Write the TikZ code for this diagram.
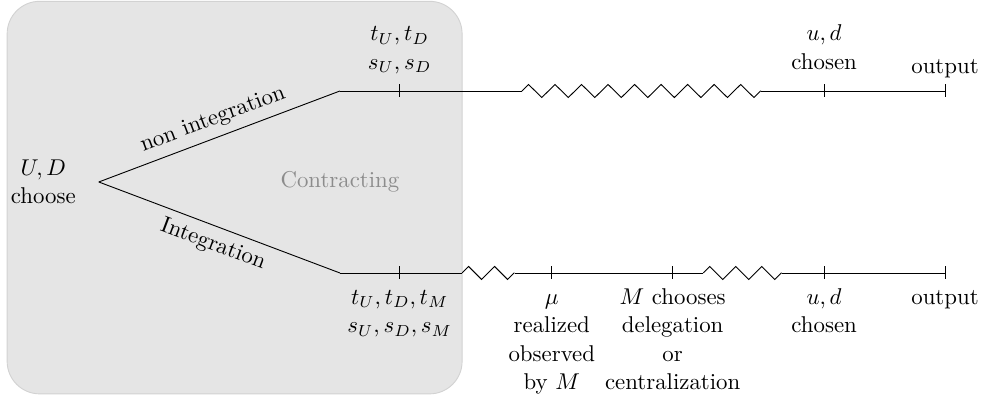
\documentclass[tikz,border=0pt]{standalone}
\usepackage{xcolor}
\usepackage{tikz}
\usetikzlibrary{positioning,decorations.pathmorphing}
\definecolor{CTFill}{HTML}{E5E5E5}
\definecolor{CTEdge}{HTML}{D2D2D2}
\definecolor{CTText}{HTML}{8C8C8C}
\tikzset{
  zig/.style={decorate,decoration={zigzag,segment length=#1,amplitude=0.1cm}},
  zig/.default=0.4cm,
  evlabel/.style={align=center,inner sep=0.333em,font=\fontsize{10}{12.5}\selectfont}
}

\begin{document}
\begin{tikzpicture}[x=1cm,y=1cm]
\path[use as bounding box] (0,0) rectangle (15.14,6.25);
\filldraw[fill=CTFill,draw=CTEdge,rounded corners=0.5cm] (0.11,0.19) rectangle (7.11,6.23);
% tree
\coordinate (root) at (1.52,3.45);
\coordinate (nBend) at (5.23,4.85);
\coordinate (iBend) at (5.23,2.05);
% non integration line
\coordinate (nCon) at (6.15,4.85);
\coordinate (nZa) at (8.03,4.85);
\coordinate (nZb) at (11.71,4.85);
\coordinate (nChoice) at (12.68,4.85);
\coordinate (nOut) at (14.54,4.85);
% integration line
\coordinate (iCon) at (6.15,2.05);
\coordinate (iZa) at (7.11,2.05);
\coordinate (iZb) at (7.92,2.05);
\coordinate (iMu) at (8.49,2.05);
\coordinate (iDel) at (10.35,2.05);
\coordinate (iZc) at (10.82,2.05);
\coordinate (iZd) at (12.03,2.05);
\coordinate (iChoice) at (12.68,2.05);
\coordinate (iOut) at (14.54,2.05);

\node[CTText] (contract) at (nBend |- root) {Contracting};
\node[evlabel,left=0.23cm of root] (choice) {$U,D$\\choose};

\draw (root) -- node[sloped,above] (nLab) {non integration} (nBend);
\draw (root) -- node[sloped,below] (iLab) {Integration} (iBend);
\draw (nBend) -- (nZa);
\draw[zig=0.408cm] (nZa) -- (nZb);
\draw (nZb) -- (nOut);
\draw (iBend) -- (iZa);
\draw[zig] (iZa) -- (iZb);
\draw (iZb) -- (iZc);
\draw[zig] (iZc) -- (iZd);
\draw (iZd) -- (iOut);
\foreach \p in {nCon,nChoice,nOut,iCon,iMu,iDel,iChoice,iOut}
  \draw ([yshift=0.1cm]\p) -- ([yshift=-0.1cm]\p);

\node[evlabel,above=0.08cm of nCon] (nConLab) {$t_U,t_D$\\$s_U,s_D$\strut};
\node[evlabel,above=0.08cm of nChoice] (nChoiceLab) {$u,d$\\chosen\strut};
\node[evlabel,above=0.08cm of nOut] (nOutLab) {output};

\node[evlabel,below=0.05cm of iCon] (iConLab) {\strut$t_U,t_D,t_M$\\$s_U,s_D,s_M$};
\node[evlabel,below=0.05cm of iMu] (iMuLab) {\strut$\mu$\\realized\\observed\\by $M$};
\node[evlabel,below=0.05cm of iDel] (iDelLab) {\strut$M$ chooses\\delegation\\or\\centralization};
\node[evlabel,below=0.05cm of iChoice] (iChoiceLab) {\strut$u,d$\\chosen};
\node[evlabel,below=0.05cm of iOut] (iOutLab) {\strut output};
\end{tikzpicture}
\end{document}
